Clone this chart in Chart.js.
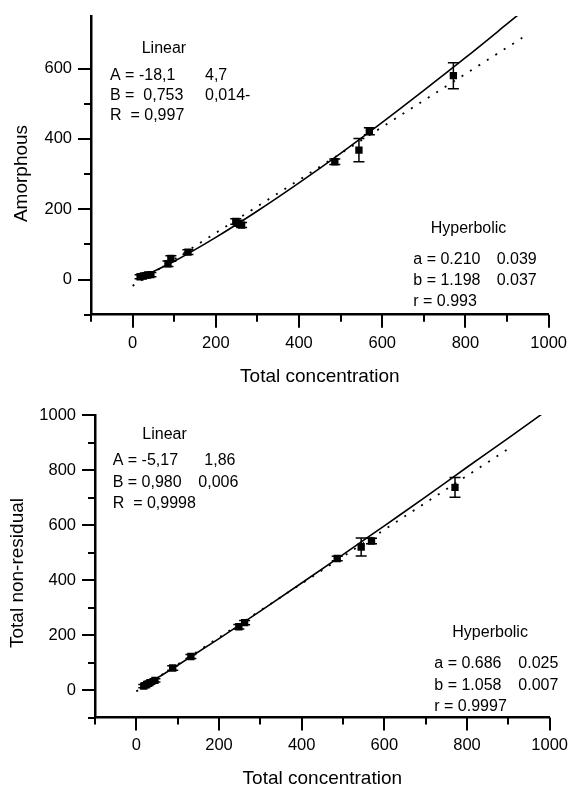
<!DOCTYPE html>
<html>
<head>
<meta charset="utf-8">
<script src="https://cdn.jsdelivr.net/npm/chart.js@4.4.1/dist/chart.umd.min.js"></script>
<style>
  body { margin: 0; background: #fff; }
  .panel { position: absolute; left: 0; width: 573px; }
  #topPanel { top: 0; height: 392px; }
  #bottomPanel { top: 392px; height: 393px; }
</style>
</head>
<body>
<div class="panel" id="topPanel"><canvas id="amorphousChart" width="573" height="392"></canvas></div>
<div class="panel" id="bottomPanel"><canvas id="nonResidualChart" width="573" height="393"></canvas></div>
<script>
// Amorphous vs total concentration
const concA = [18, 26, 36, 44, 85, 92, 133, 248, 255, 262, 486, 544, 569, 771];
const amorphous = [8, 10, 13, 14, 45, 60, 78, 165, 160, 155, 335, 368, 422, 580];
const amorphousErr = [6, 6, 6, 6, 8, 8, 7, 8, 8, 7, 8, 33, 10, 37];
// hyperbolic fit (solid) and linear fit (dotted)
const hypAx = [15, 50, 100, 200, 300, 400, 500, 600, 700, 800, 900, 930];
const hypAy = [5, 23, 52, 120, 195, 275, 359, 447, 538, 631, 727, 756];
const linAx = [0, 945];
const linAy = [-18, 694];

// Total non-residual vs total concentration
const concT = [18, 25, 33, 45, 88, 132, 248, 262, 486, 544, 569, 771];
const nonResidual = [14, 20, 27, 35, 80, 122, 230, 245, 478, 520, 542, 737];
const nonResidualErr = [6, 6, 6, 6, 8, 7, 8, 8, 8, 33, 10, 36];
const hypTx = [15, 50, 100, 200, 300, 400, 500, 600, 700, 800, 900, 990];
const hypTy = [12, 43, 90, 187, 287, 389, 492, 597, 702, 810, 916, 1013];
const linTx = [0, 900];
const linTy = [-5, 877];

// fit parameter texts
const linearA = ['A = -18,1', 'B =  0,753', 'R  = 0,997'];
const linearAErr = ['4,7', '0,014-'];
const hyperA = ['a = 0.210', 'b = 1.198', 'r = 0.993'];
const hyperAErr = ['0.039', '0.037'];
const linearT = ['A = -5,17', 'B = 0,980', 'R  = 0,9998'];
const linearTErr = ['1,86', '0,006'];
const hyperT = ['a = 0.686', 'b = 1.058', 'r = 0.9997'];
const hyperTErr = ['0.025', '0.007'];

const FONT = '"Liberation Sans", Arial, Helvetica, sans-serif';

function pts(xs, ys) {
    return xs.map((x, i) => ({ x: x, y: ys[i] }));
}

// vertical error bars with caps on the measured points
const errorBars = {
    id: 'errorBars',
    afterDatasetsDraw(chart, args, opts) {
        const ctx = chart.ctx;
        const yScale = chart.scales.y;
        const data = chart.data.datasets[0].data;
        ctx.save();
        ctx.strokeStyle = '#000';
        ctx.lineWidth = 1.5;
        chart.getDatasetMeta(0).data.forEach((pt, i) => {
            const top = yScale.getPixelForValue(data[i].y + opts.err[i]);
            const bot = yScale.getPixelForValue(data[i].y - opts.err[i]);
            ctx.beginPath();
            ctx.moveTo(pt.x, top); ctx.lineTo(pt.x, bot);
            ctx.moveTo(pt.x - 5.5, top); ctx.lineTo(pt.x + 5.5, top);
            ctx.moveTo(pt.x - 5.5, bot); ctx.lineTo(pt.x + 5.5, bot);
            ctx.stroke();
        });
        ctx.restore();
    }
};

// outward tick marks: long on labelled values, short in between
const axisTicks = {
    id: 'axisTicks',
    afterDraw(chart) {
        const ctx = chart.ctx;
        const { x, y } = chart.scales;
        ctx.save();
        ctx.strokeStyle = '#000';
        ctx.lineWidth = 2;
        x.ticks.forEach(t => {
            if (t.value % 100) return;
            const len = t.value % 200 ? 7 : 13;
            const px = Math.round(x.getPixelForValue(t.value));
            ctx.beginPath();
            ctx.moveTo(px, x.top);
            ctx.lineTo(px, x.top + len);
            ctx.stroke();
        });
        y.ticks.forEach(t => {
            if (t.value % 100) return;
            const len = t.value % 200 ? 7 : 13;
            const py = Math.round(y.getPixelForValue(t.value));
            ctx.beginPath();
            ctx.moveTo(y.right, py);
            ctx.lineTo(y.right - len, py);
            ctx.stroke();
        });
        ctx.restore();
    }
};

// fit results and axis titles
const notes = {
    id: 'notes',
    afterDraw(chart, args, opts) {
        const ctx = chart.ctx;
        const area = chart.chartArea;
        ctx.save();
        ctx.fillStyle = '#000';
        ctx.textBaseline = 'alphabetic';
        ctx.font = '16px ' + FONT;
        opts.text.forEach(([s, x, y]) => ctx.fillText(s, x, y));

        ctx.font = '19px ' + FONT;
        ctx.textAlign = 'center';
        ctx.fillText(opts.xTitle, (area.left + area.right) / 2, opts.xTitleY);
        ctx.translate(opts.yTitleX, opts.yTitleMid);
        ctx.rotate(-Math.PI / 2);
        ctx.fillText(opts.yTitle, 0, 0);
        ctx.restore();
    }
};

function buildChart(id, c) {
    const tickFont = { family: FONT, size: 16.5 };
    return new Chart(document.getElementById(id), {
        type: 'scatter',
        data: {
            datasets: [
                {
                    data: pts(c.xs, c.ys),
                    pointStyle: 'rect',
                    pointRadius: 5.2,
                    backgroundColor: '#000',
                    borderColor: '#000',
                    borderWidth: 0,
                    showLine: false
                },
                {
                    data: pts(c.hypX, c.hypY),
                    showLine: true,
                    borderColor: '#000',
                    borderWidth: 1.6,
                    pointRadius: 0,
                    cubicInterpolationMode: 'monotone'
                },
                {
                    data: pts(c.linX, c.linY),
                    showLine: true,
                    borderColor: '#000',
                    borderWidth: 1.8,
                    borderDash: [2, 8],
                    pointRadius: 0
                }
            ]
        },
        options: {
            responsive: false,
            animation: false,
            events: [],
            layout: { padding: { left: 0, right: c.padRight, top: c.padTop, bottom: 0 } },
            plugins: {
                legend: { display: false },
                tooltip: { enabled: false },
                errorBars: { err: c.err },
                notes: c.notes
            },
            scales: {
                x: {
                    type: 'linear',
                    min: -100,
                    max: 1000,
                    afterFit: s => { s.height = c.xAxisHeight; },
                    border: { display: true, color: '#000', width: 2.5 },
                    grid: { drawOnChartArea: false, drawTicks: true, tickLength: 13, tickColor: 'rgba(0,0,0,0)' },
                    ticks: {
                        stepSize: 100,
                        autoSkip: false,
                        maxRotation: 0,
                        padding: c.xPad,
                        color: '#000',
                        font: tickFont,
                        callback: v => (v % 200 === 0 ? String(v) : '')
                    }
                },
                y: {
                    type: 'linear',
                    min: -100,
                    max: c.yMax,
                    afterFit: s => { s.width = c.yAxisWidth; },
                    border: { display: true, color: '#000', width: 2.5 },
                    grid: { drawOnChartArea: false, drawTicks: true, tickLength: 13, tickColor: 'rgba(0,0,0,0)' },
                    ticks: {
                        stepSize: 100,
                        autoSkip: false,
                        padding: 6,
                        color: '#000',
                        font: tickFont,
                        callback: v => (v % 200 === 0 ? String(v) : '')
                    }
                }
            }
        },
        plugins: [errorBars, axisTicks, notes]
    });
}

buildChart('amorphousChart', {
    xs: concA, ys: amorphous, err: amorphousErr,
    hypX: hypAx, hypY: hypAy, linX: linAx, linY: linAy,
    yMax: 750,
    padRight: 22, padTop: 13.7, yAxisWidth: 91, xAxisHeight: 77.3, xPad: 6,
    notes: {
        text: [
            ['Linear', 141.7, 53],
            [linearA[0], 110, 80], [linearAErr[0], 205, 80],
            [linearA[1], 110, 100], [linearAErr[1], 205, 100],
            [linearA[2], 110, 120],
            ['Hyperbolic', 430.7, 233],
            [hyperA[0], 413.3, 264], [hyperAErr[0], 496.7, 264],
            [hyperA[1], 413.3, 285], [hyperAErr[1], 496.7, 285],
            [hyperA[2], 413.3, 306]
        ],
        xTitle: 'Total concentration', xTitleY: 382,
        yTitle: 'Amorphous', yTitleX: 27, yTitleMid: 173.5
    }
});

buildChart('nonResidualChart', {
    xs: concT, ys: nonResidual, err: nonResidualErr,
    hypX: hypTx, hypY: hypTy, linX: linTx, linY: linTy,
    yMax: 1000,
    padRight: 18, padTop: 23, yAxisWidth: 95, xAxisHeight: 67.5, xPad: 5,
    notes: {
        text: [
            ['Linear', 142.3, 47],
            [linearT[0], 112.7, 73], [linearTErr[0], 204.3, 73],
            [linearT[1], 112.7, 94.5], [linearTErr[1], 198.3, 94.5],
            [linearT[2], 112.7, 116],
            ['Hyperbolic', 452.3, 245],
            [hyperT[0], 434.3, 276], [hyperTErr[0], 518.3, 276],
            [hyperT[1], 434.3, 297.5], [hyperTErr[1], 518.3, 297.5],
            [hyperT[2], 434.3, 318.5]
        ],
        xTitle: 'Total concentration', xTitleY: 392,
        yTitle: 'Total non-residual', yTitleX: 22.7, yTitleMid: 181
    }
});
</script>
</body>
</html>
